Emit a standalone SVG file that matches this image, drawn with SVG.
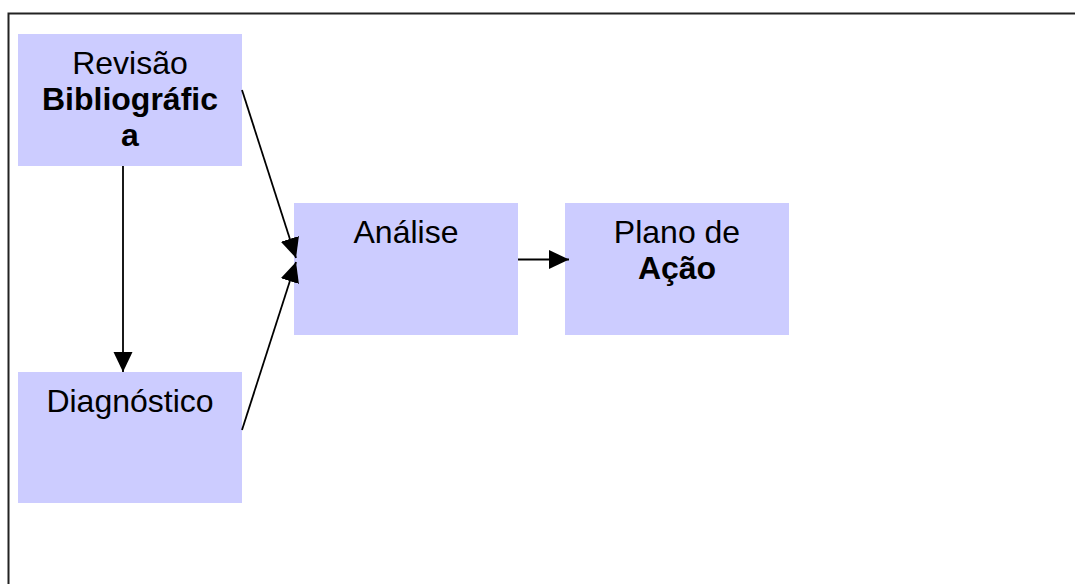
<svg xmlns="http://www.w3.org/2000/svg" width="1075" height="584" viewBox="0 0 1075 584">
<style>
.box{fill:#CCCCFF;stroke:none}
.t{font-family:"Liberation Sans",Arial,sans-serif;font-size:32px;fill:#000;text-anchor:middle}
.b{font-weight:bold}
.c{stroke:#000;stroke-width:1.8;fill:none;marker-end:url(#ah)}
</style>
<defs>
<marker id="ah" markerUnits="userSpaceOnUse" markerWidth="21" markerHeight="20" refX="20" refY="9.5" orient="auto">
<path d="M0,0 L20,9.5 L0,19 z" fill="#000"/>
</marker>
</defs>
<rect x="0" y="0" width="1075" height="584" fill="#fff"/>
<rect x="8.5" y="13.5" width="1100" height="600" fill="none" stroke="#222" stroke-width="2"/>
<g id="revisao">
<rect class="box" x="18" y="34" width="224" height="132"/>
<text class="t" x="130" y="74">Revisão</text>
<text class="t b" x="130" y="110">Bibliográfic</text>
<text class="t b" x="130" y="146">a</text>
</g>
<g id="diagnostico">
<rect class="box" x="18" y="372" width="224" height="131"/>
<text class="t" x="130" y="412">Diagnóstico</text>
</g>
<g id="analise">
<rect class="box" x="294" y="203" width="224" height="132"/>
<text class="t" x="406" y="243">Análise</text>
</g>
<g id="plano">
<rect class="box" x="565" y="203" width="224" height="132"/>
<text class="t" x="677" y="243">Plano de</text>
<text class="t b" x="677" y="279">Ação</text>
</g>
<g id="connectors">
<line class="c" x1="123" y1="166" x2="123" y2="372"/>
<line class="c" x1="242" y1="90" x2="296" y2="258"/>
<line class="c" x1="242" y1="430" x2="296" y2="262"/>
<line class="c" x1="518" y1="259.5" x2="569" y2="259.5"/>
</g>
</svg>
